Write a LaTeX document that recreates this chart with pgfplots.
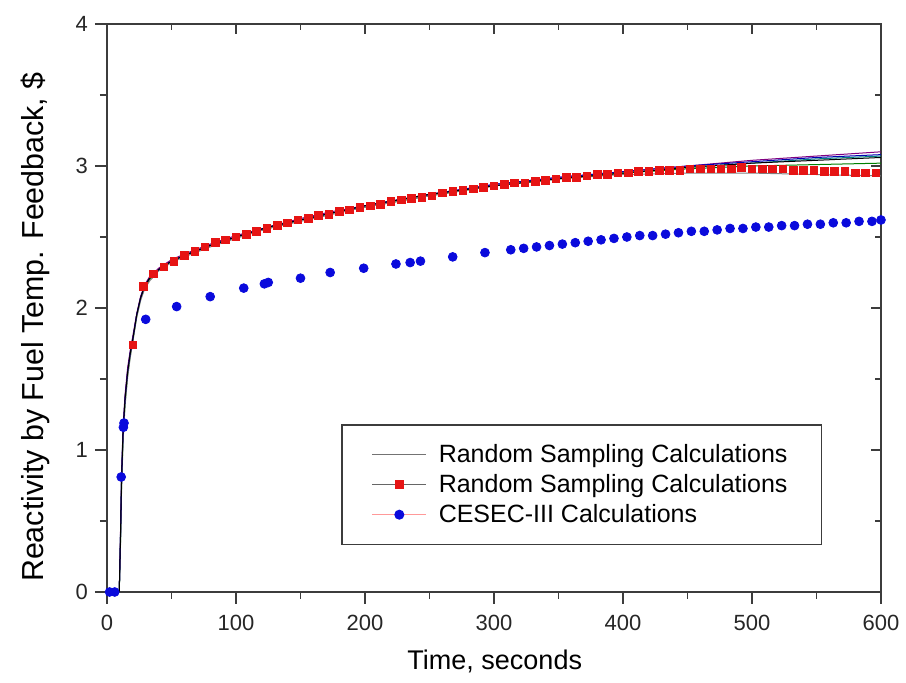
\documentclass[border=0pt]{standalone}
\usepackage{pgfplots}
\pgfplotsset{compat=1.18}
\usepackage{pgfplotstable}
\usepackage{fontspec}
\setmainfont{Liberation Sans}

\pgfplotstableread{
x a b c d e f
0 0 0 0 0 0 0
9.5 0 0 0 0 0 0
10.5 0.40 0.36 0.44 0.40 0.34 0.42
11.3 0.80 0.75 0.84 0.79 0.72 0.82
12.5 1.14 1.10 1.17 1.13 1.07 1.15
14 1.36 1.33 1.39 1.36 1.31 1.37
16 1.55 1.53 1.58 1.55 1.51 1.56
18 1.68 1.66 1.70 1.68 1.65 1.69
20 1.78 1.77 1.80 1.78 1.76 1.79
23 1.95 1.94 1.96 1.95 1.93 1.95
26 2.07 2.06 2.08 2.07 2.05 2.07
29 2.15 2.14 2.16 2.15 2.13 2.15
33 2.21 2.20 2.22 2.21 2.19 2.21
40 2.27 2.27 2.28 2.27 2.26 2.27
50 2.33 2.33 2.34 2.33 2.32 2.33
60 2.37 2.37 2.38 2.37 2.36 2.37
80 2.44 2.44 2.45 2.44 2.43 2.44
100 2.50 2.50 2.51 2.50 2.49 2.50
125 2.57 2.56 2.57 2.57 2.56 2.57
150 2.62 2.62 2.63 2.62 2.61 2.62
175 2.67 2.67 2.68 2.67 2.66 2.67
200 2.72 2.71 2.72 2.72 2.71 2.72
250 2.80 2.79 2.80 2.80 2.79 2.80
300 2.86 2.86 2.87 2.87 2.86 2.86
350 2.91 2.91 2.92 2.92 2.91 2.91
400 2.95 2.95 2.96 2.96 2.94 2.95
450 2.99 2.98 3.00 3.00 2.95 2.99
500 3.02 3.00 3.04 3.03 2.95 3.02
550 3.04 3.01 3.07 3.06 2.94 3.05
600 3.06 3.02 3.10 3.08 2.93 3.07
}\lines

\pgfplotstableread{
x y
20 1.74
28 2.15
36 2.24
44 2.29
52 2.33
60 2.37
68 2.40
76 2.43
84 2.46
92 2.48
100 2.50
108 2.52
116 2.54
124 2.56
132 2.58
140 2.60
148 2.62
156 2.63
164 2.65
172 2.66
180 2.68
188 2.69
196 2.71
204 2.72
212 2.73
220 2.75
228 2.76
236 2.77
244 2.78
252 2.79
260 2.81
268 2.82
276 2.83
284 2.84
292 2.85
300 2.86
308 2.87
316 2.88
324 2.88
332 2.89
340 2.90
348 2.91
356 2.92
364 2.92
372 2.93
380 2.94
388 2.94
396 2.95
404 2.95
412 2.96
420 2.96
428 2.97
436 2.97
444 2.97
452 2.98
460 2.98
468 2.98
476 2.98
484 2.98
492 2.99
500 2.98
508 2.98
516 2.98
524 2.98
532 2.97
540 2.97
548 2.97
556 2.96
564 2.96
572 2.96
580 2.95
588 2.95
596 2.95
}\redpts

\pgfplotstableread{
x y
2 0
6 0
11 0.81
12.7 1.16
13.2 1.19
30 1.92
54 2.01
80 2.08
106 2.14
122 2.17
125 2.18
150 2.21
173 2.25
199 2.28
224 2.31
235 2.32
243 2.33
268 2.36
293 2.39
313 2.41
323 2.42
333 2.43
343 2.44
353 2.45
363 2.46
373 2.47
383 2.48
393 2.49
403 2.50
413 2.51
423 2.51
433 2.52
443 2.53
453 2.54
463 2.54
473 2.55
483 2.56
493 2.56
503 2.57
513 2.57
523 2.58
533 2.58
543 2.59
553 2.59
563 2.60
573 2.60
583 2.61
593 2.61
600 2.62
}\bluepts

\definecolor{axgray}{RGB}{60,60,60}
\definecolor{mred}{RGB}{230,20,20}
\definecolor{mblue}{RGB}{10,10,220}

\pgfplotsset{
  redleg/.style={legend image code/.code={\draw[black!60,line width=0.4pt] (0cm,0cm) -- (0.95cm,0cm); \draw[##1] plot coordinates {(0.475cm,0cm)};}},
  blueleg/.style={legend image code/.code={\draw[red!40,line width=0.4pt] (0cm,0cm) -- (0.95cm,0cm); \draw[##1] plot coordinates {(0.475cm,0cm)};}},
  lineleg/.style={legend image code/.code={\draw[black!55,line width=0.4pt] (0cm,0cm) -- (0.95cm,0cm);}},
}

\begin{document}
\begin{tikzpicture}
% overlay axis: inward ticks on top and right
\begin{axis}[
  scale only axis, width=387pt, height=284pt,
  xmin=0, xmax=600, ymin=0, ymax=4,
  xtick={0,100,...,600}, ytick={0,1,2,3,4},
  minor x tick num=1, minor y tick num=1,
  xtick pos=upper, ytick pos=right, tick align=inside,
  xticklabels={}, yticklabels={},
  major tick length=5pt, minor tick length=3pt,
  tick style={axgray, line width=0.7pt},
  axis line style={draw=none},
]
\end{axis}
\begin{axis}[
  scale only axis, width=387pt, height=284pt,
  xmin=0, xmax=600, ymin=0, ymax=4,
  xtick={0,100,...,600}, ytick={0,1,2,3,4},
  minor x tick num=1, minor y tick num=1,
  xtick pos=lower, ytick pos=left, tick align=outside,
  major tick length=6pt, minor tick length=3.5pt,
  tick style={axgray, line width=0.7pt},
  axis line style={axgray, line width=0.8pt},
  /pgf/number format/assume math mode=true,
  xticklabel style={font=\fontsize{11}{13}\selectfont, text=black!85, yshift=-2pt},
  yticklabel style={font=\fontsize{11}{13}\selectfont, text=black!85},
  xlabel={Time, seconds},
  ylabel={Reactivity by Fuel Temp. Feedback, \$},
  xlabel style={font=\fontsize{13.5}{16}\selectfont, at={(axis description cs:0.501,-0.123)}, anchor=center},
  ylabel style={font=\fontsize{15.2}{18}\selectfont, at={(axis description cs:-0.093,0.4665)}, anchor=center, rotate=0},
  legend style={at={(0.924,0.083)}, anchor=south east, draw=axgray, line width=0.6pt,
    font=\fontsize{12.5}{15}\selectfont, inner xsep=15pt, inner ysep=7.5pt,
    row sep=0.5pt, column sep=4pt, cells={anchor=west}},
  legend cell align=left,
  clip=true,
]
\addplot[teal, line width=0.5pt, forget plot] table[x=x,y=f]{\lines};
\addplot[green!50!black, line width=0.5pt, forget plot] table[x=x,y=b]{\lines};
\addplot[gray, line width=0.5pt, forget plot] table[x=x,y=e]{\lines};
\addplot[violet, line width=0.5pt, forget plot] table[x=x,y=c]{\lines};
\addplot[blue!70!black, line width=0.5pt, forget plot] table[x=x,y=d]{\lines};
\addplot[black, line width=0.5pt, lineleg] table[x=x,y=a]{\lines};
\addlegendentry{Random Sampling Calculations}
\addplot[only marks, mark=square*, mark size=1.9pt, mred, redleg]
  table[x=x,y=y]{\redpts};
\addlegendentry{Random Sampling Calculations}
\addplot[only marks, mark=*, mark size=2.2pt, mblue, blueleg]
  table[x=x,y=y]{\bluepts};
\addlegendentry{CESEC-III Calculations}
\end{axis}
\pgfresetboundingbox
\path (-53.5pt,-45.5pt) rectangle (399.5pt,296pt);
\end{tikzpicture}
\end{document}
